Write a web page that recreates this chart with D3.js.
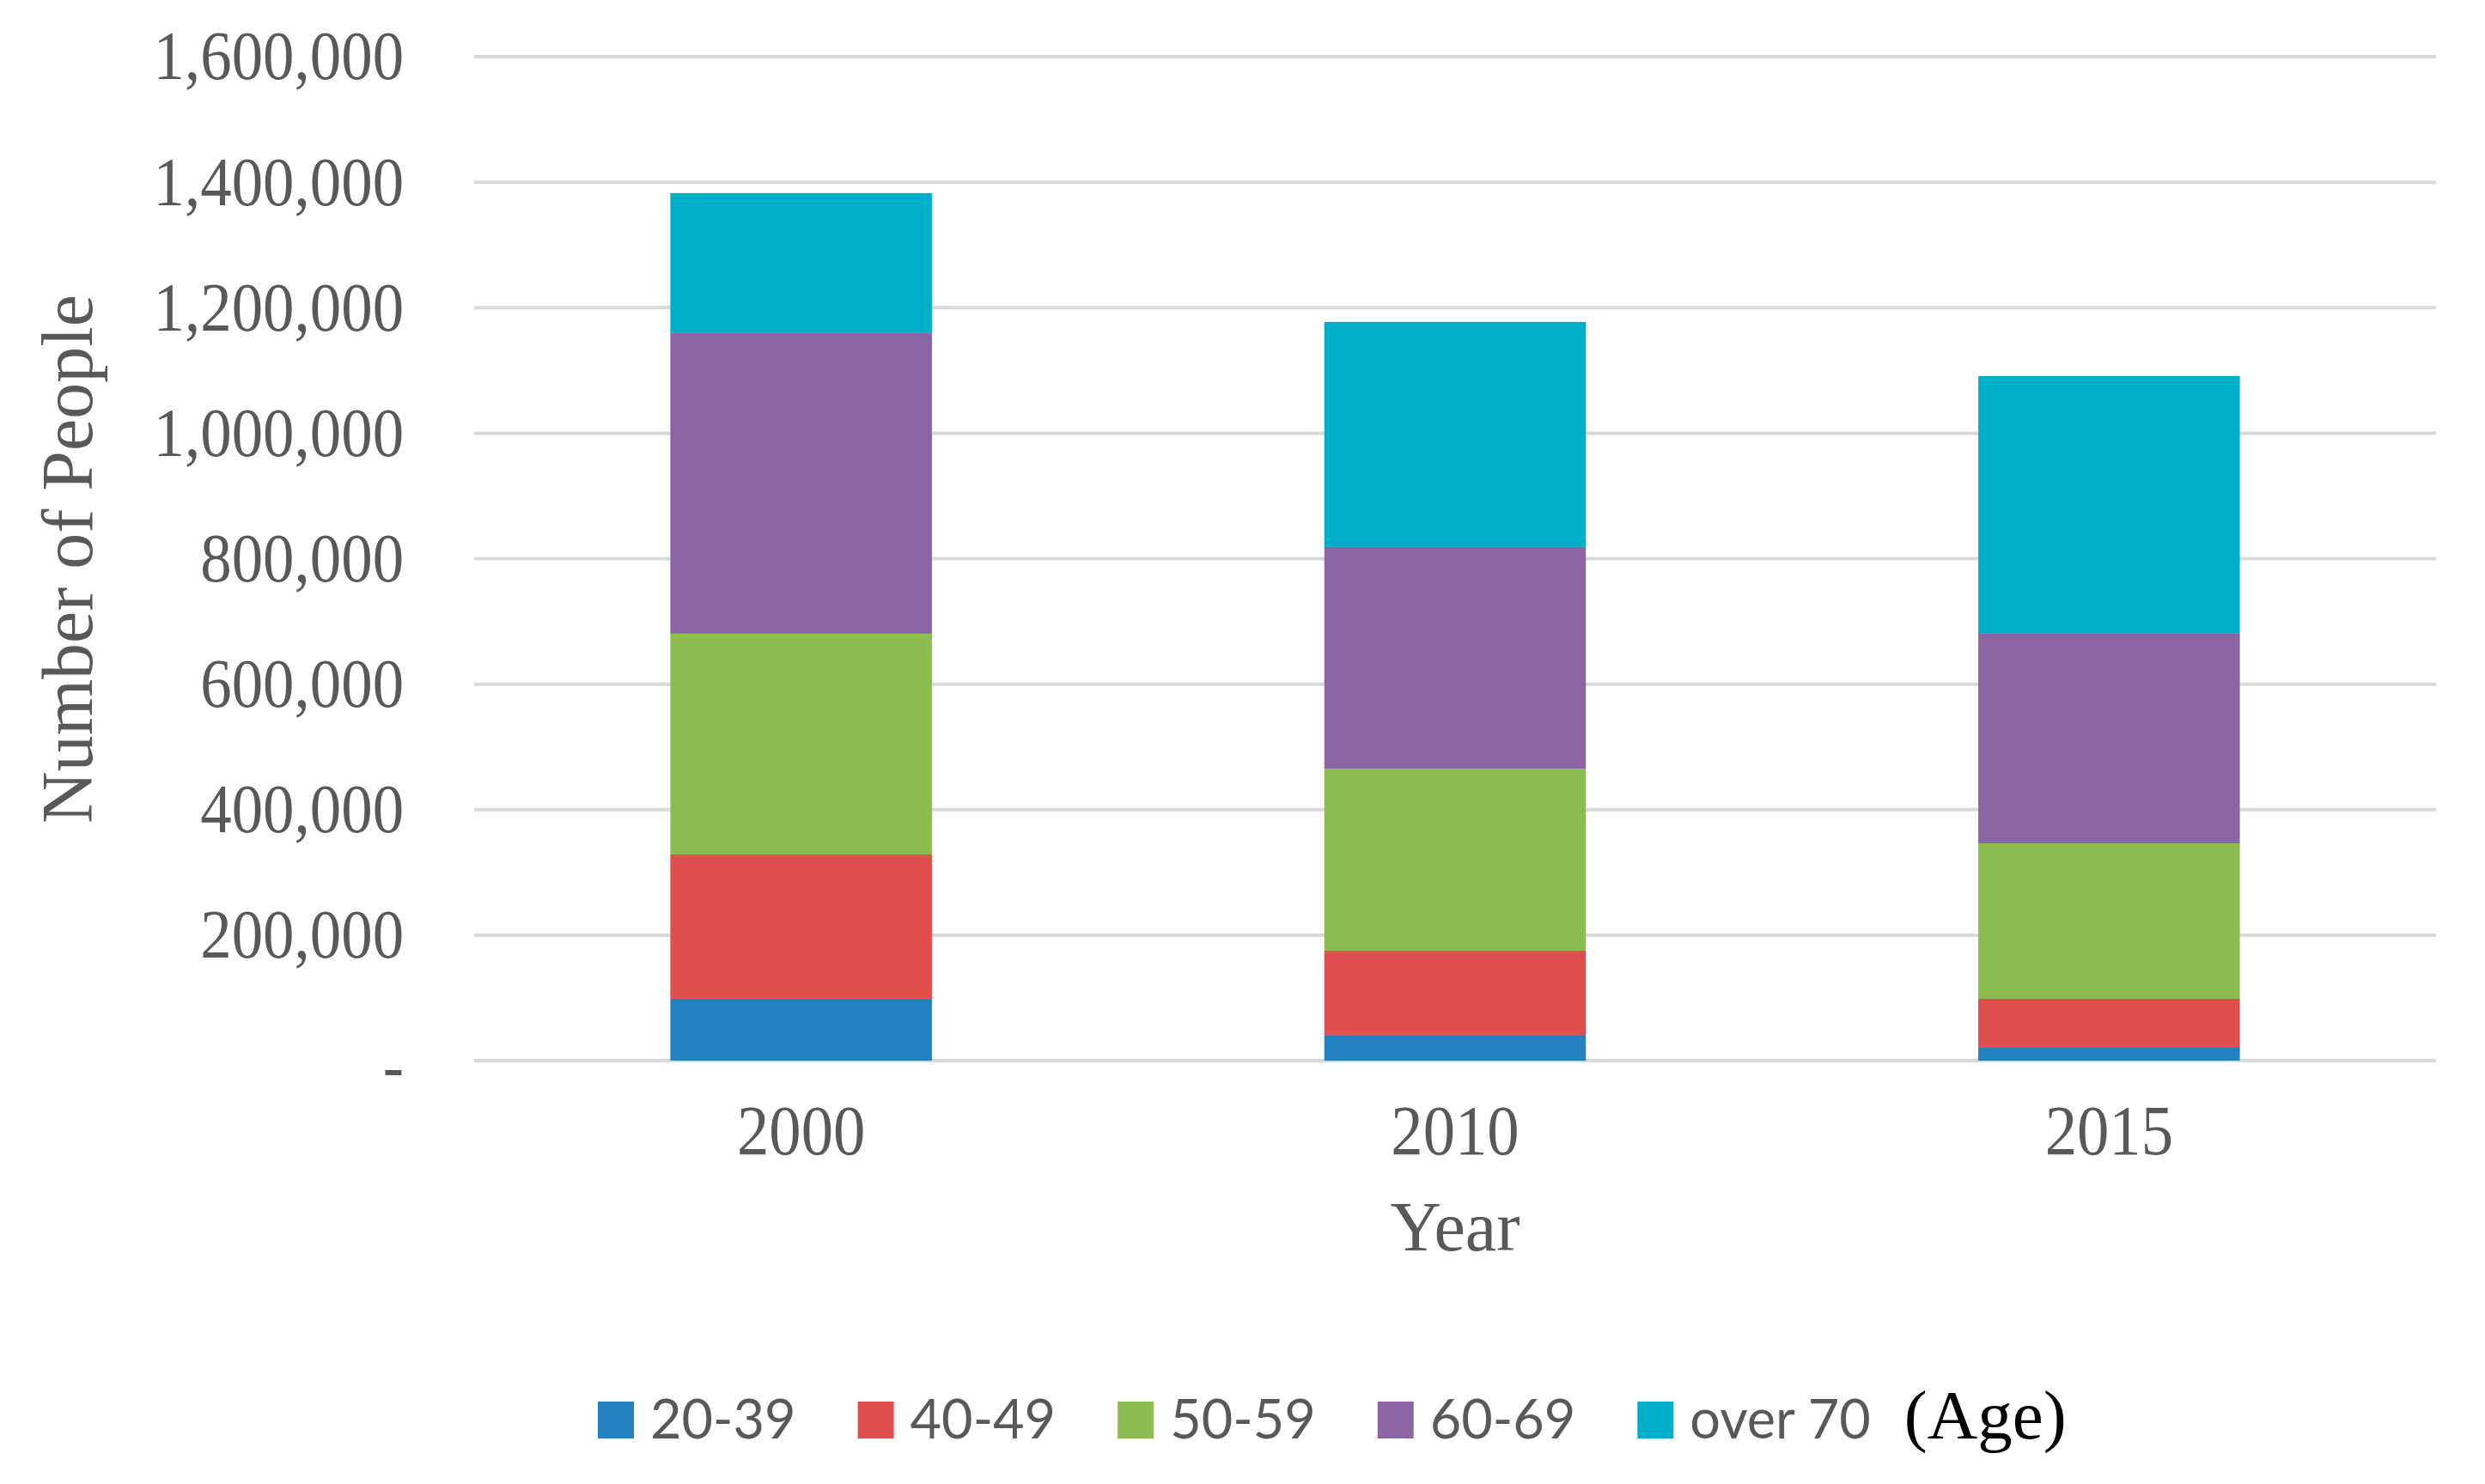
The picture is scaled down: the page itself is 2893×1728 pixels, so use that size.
<!DOCTYPE html>
<html>
<head>
<meta charset="utf-8">
<script src="https://cdn.jsdelivr.net/npm/d3@7"></script>
<style>
  html, body { margin: 0; padding: 0; background: #fff; }
  svg { display: block; }
</style>
</head>
<body>
<div id="chart"></div>
<script>
// -- Data ----------------------------------------------------------
var YEARS = ["2000", "2010", "2015"];
var AGE_GROUPS = ["20-39", "40-49", "50-59", "60-69", "over 70"];
var AGE_20_39 = [98600, 39700, 20500];
var AGE_40_49 = [229900, 135500, 78100];
var AGE_50_59 = [351900, 290200, 247700];
var AGE_60_69 = [479100, 353200, 334100];
var AGE_70_UP = [223100, 358700, 410600];
var Y_TICKS = [0, 200000, 400000, 600000, 800000, 1000000, 1200000, 1400000, 1600000];

var COLORS = ["#2381c0", "#df4f4d", "#8dbd50", "#8b65a3", "#00afc7"];

(function () {
  var W = 2893, H = 1728;
  var margin = { top: 66, right: 57, bottom: 493, left: 552 };
  var innerW = W - margin.left - margin.right;
  var innerH = H - margin.top - margin.bottom;

  var rows = YEARS.map(function (yr, i) {
    return {
      year: yr,
      "20-39": AGE_20_39[i],
      "40-49": AGE_40_49[i],
      "50-59": AGE_50_59[i],
      "60-69": AGE_60_69[i],
      "over 70": AGE_70_UP[i]
    };
  });
  var series = d3.stack().keys(AGE_GROUPS)(rows);

  var svg = d3.select("#chart").append("svg")
    .attr("width", W).attr("height", H);

  var g = svg.append("g")
    .attr("transform", "translate(" + margin.left + "," + margin.top + ")");

  var x = d3.scaleBand().domain(YEARS).range([0, innerW]).paddingInner(0.6).paddingOuter(0.3);
  var y = d3.scaleLinear().domain([0, 1600000]).range([innerH, 0]);

  // Gridlines
  g.append("g").selectAll("line")
    .data(Y_TICKS)
    .join("line")
      .attr("x1", 0).attr("x2", innerW)
      .attr("y1", function (d) { return y(d); })
      .attr("y2", function (d) { return y(d); })
      .attr("stroke", "#d9d9d9")
      .attr("stroke-width", 4);

  // Y tick labels
  var fmt = d3.format(",");
  var yAxis = g.append("g")
    .call(d3.axisLeft(y).tickValues(Y_TICKS).tickSize(0).tickPadding(0)
      .tickFormat(function (d) { return d === 0 ? "-" : fmt(d); }));
  yAxis.select(".domain").remove();
  yAxis.selectAll("text")
    .attr("x", -91)
    .attr("dy", "0.32em")
    .attr("transform", "scale(0.9,1)")
    .attr("font-family", "'Liberation Serif', 'Times New Roman', serif")
    .attr("font-size", "81px")
    .attr("fill", "#595959");
  yAxis.selectAll(".tick").filter(function (d) { return d === 0; }).select("text")
    .attr("dy", "0.4em");

  // Bars
  g.append("g").selectAll("g")
    .data(series)
    .join("g")
      .attr("fill", function (d, i) { return COLORS[i]; })
    .selectAll("rect")
    .data(function (d) { return d; })
    .join("rect")
      .attr("x", function (d) { return x(d.data.year); })
      .attr("y", function (d) { return y(d[1]); })
      .attr("width", x.bandwidth())
      .attr("height", function (d) { return y(d[0]) - y(d[1]); });

  // X tick labels
  var xAxis = g.append("g")
    .attr("transform", "translate(0," + innerH + ")")
    .call(d3.axisBottom(x).tickSize(0).tickPadding(0));
  xAxis.select(".domain").remove();
  xAxis.selectAll("text")
    .attr("y", 109)
    .attr("dy", 0)
    .attr("transform", "scale(0.9,1)")
    .attr("font-family", "'Liberation Serif', 'Times New Roman', serif")
    .attr("font-size", "83px")
    .attr("fill", "#595959");

  // Axis titles
  svg.append("text")
    .attr("x", margin.left + innerW / 2)
    .attr("y", 1456)
    .attr("text-anchor", "middle")
    .attr("font-family", "'Liberation Serif', 'Times New Roman', serif")
    .attr("font-size", "82px")
    .attr("fill", "#595959")
    .text("Year");

  svg.append("text")
    .attr("transform", "translate(107,651) rotate(-90)")
    .attr("text-anchor", "middle")
    .attr("font-family", "'Liberation Serif', 'Times New Roman', serif")
    .attr("font-size", "84px")
    .attr("fill", "#595959")
    .text("Number of People");

  // Legend
  var legend = svg.append("g").attr("transform", "translate(696,1675)");
  var lx = 0, gap = 72;
  AGE_GROUPS.forEach(function (name, i) {
    var item = legend.append("g").attr("transform", "translate(" + lx + ",0)");
    item.append("rect")
      .attr("x", 0).attr("y", -43)
      .attr("width", 42).attr("height", 43)
      .attr("fill", COLORS[i]);
    var t = item.append("text")
      .attr("x", 61).attr("y", 0)
      .attr("font-family", "Lato, 'Open Sans', sans-serif")
      .attr("font-size", "63px")
      .attr("fill", "#595959")
      .text(name);
    lx += 61 + t.node().getComputedTextLength() + gap;
  });
  legend.append("text")
    .attr("x", lx - gap + 39).attr("y", 0)
    .attr("font-family", "'Liberation Serif', 'Times New Roman', serif")
    .attr("font-size", "81px")
    .attr("fill", "#000")
    .text("(Age)");
})();
</script>
</body>
</html>
